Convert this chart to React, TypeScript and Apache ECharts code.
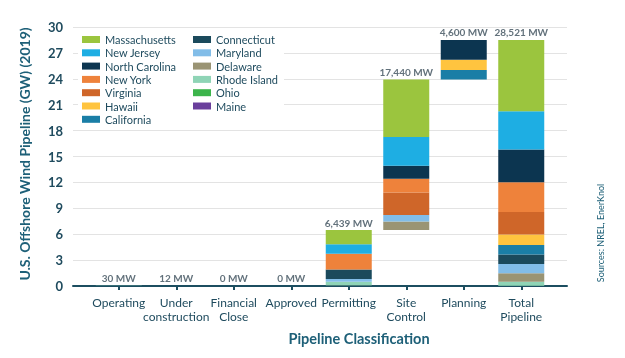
import React, { useEffect, useRef } from "react";
import * as echarts from "echarts";

const categories = ["Operating", "Under\nconstruction", "Financial\nClose", "Approved", "Permitting", "Site\nControl", "Planning", "Total\nPipeline"];
const barLabels = ["30 MW", "12 MW", "0 MW", "0 MW", "6,439 MW", "17,440 MW", "4,600 MW", "28,521 MW"];
const yTicks = [0, 3, 6, 9, 12, 15, 18, 21, 24, 27, 30];

// GW per stage: Operating, Under construction, Financial Close, Approved, Permitting, Site Control, Planning
const massachusetts = [0, 0, 0, 0, 1.63, 6.64, 0];
const newJersey = [0, 0, 0, 0, 1.1, 3.33, 0];
const northCarolina = [0, 0, 0, 0, 0, 1.5, 2.3];
const newYork = [0, 0, 0, 0, 1.82, 1.6, 0];
const virginia = [0, 0.012, 0, 0, 0, 2.62, 0];
const hawaii = [0, 0, 0, 0, 0, 0, 1.2];
const california = [0, 0, 0, 0, 0, 0, 1.1];
const connecticut = [0, 0, 0, 0, 1.1, 0, 0];
const maryland = [0, 0, 0, 0, 0.33, 0.74, 0];
const delaware = [0, 0, 0, 0, 0, 1.0, 0];
const rhodeIsland = [0.03, 0, 0, 0, 0.42, 0, 0];
const ohio = [0, 0, 0, 0, 0.021, 0, 0];
const maine = [0, 0, 0, 0, 0.012, 0, 0];

const states: [string, number[], string][] = [
  ["Maine", maine, "#6a3f9c"],
  ["Ohio", ohio, "#3cb44b"],
  ["Rhode Island", rhodeIsland, "#8fd4b6"],
  ["Delaware", delaware, "#9a9474"],
  ["Maryland", maryland, "#82bde8"],
  ["Connecticut", connecticut, "#1b4a5c"],
  ["California", california, "#1a7ea6"],
  ["Hawaii", hawaii, "#ffc43f"],
  ["Virginia", virginia, "#cf6629"],
  ["New York", newYork, "#ee823b"],
  ["North Carolina", northCarolina, "#0c3550"],
  ["New Jersey", newJersey, "#1eaee3"],
  ["Massachusetts", massachusetts, "#9bc53e"],
];

const legendCol1 = ["Massachusetts", "New Jersey", "North Carolina", "New York", "Virginia", "Hawaii", "California"];
const legendCol2 = ["Connecticut", "Maryland", "Delaware", "Rhode Island", "Ohio", "Maine"];

const FONT = "Lato";
const TEXT = "#1f4b5e";

export default function App() {
  const ref = useRef<HTMLDivElement>(null);
  useEffect(() => {
    if (!ref.current) return;
    const chart = echarts.init(ref.current, null, { renderer: "svg" });
    const nStages = 7;
    const stageTotals: number[] = [];
    for (let i = 0; i < nStages; i++) {
      stageTotals.push(states.reduce((s, st) => s + st[1][i], 0));
    }
    const base: number[] = [];
    let cum = 0;
    for (let i = 0; i < nStages; i++) {
      base.push(cum);
      cum += stageTotals[i];
    }
    base.push(0);
    const grand = cum;
    const tops = [...stageTotals.map((t, i) => base[i] + t), grand];

    const stateSeries = states.map(([name, vals, color]) => ({
      name,
      type: "bar",
      stack: "w",
      xAxisIndex: 1,
      yAxisIndex: 1,
      barWidth: 46,
      itemStyle: { color },
      data: [...vals, vals.reduce((a, b) => a + b, 0)],
    }));

    const legendCommon = {
      orient: "vertical",
      top: 33,
      padding: 0,
      itemWidth: 18,
      itemHeight: 7,
      itemGap: 0.3,
      icon: "rect",
      selectedMode: false,
      textStyle: { fontFamily: FONT, fontSize: 11, color: TEXT, lineHeight: 13 },
    };

    chart.setOption({
      animation: false,
      textStyle: { fontFamily: FONT },
      grid: [
        { left: 73, right: 58, top: 27, bottom: 72 },
        { left: 90, right: 75, top: 27, bottom: 72 },
      ],
      xAxis: [
        {
          type: "value",
          gridIndex: 0,
          min: 0,
          max: 1,
          axisLine: { show: true, lineStyle: { color: "#1c4e60", width: 2 } },
          axisTick: { show: false },
          axisLabel: { show: false },
          splitLine: { show: false },
        },
        {
          type: "category",
          gridIndex: 1,
          data: categories,
          axisLine: { show: false },
          axisTick: { show: true, alignWithLabel: true, length: 4, lineStyle: { color: "#1c4e60", width: 2 } },
          axisLabel: { fontFamily: FONT, fontSize: 12, color: TEXT, margin: 9, lineHeight: 14, interval: 0 },
        },
      ],
      yAxis: [
        {
          type: "value",
          gridIndex: 0,
          min: 0,
          max: 30,
          interval: 3,
          axisLine: { show: false },
          axisTick: { show: false },
          axisLabel: {
            fontFamily: FONT,
            fontSize: 13,
            fontWeight: "bold",
            color: TEXT,
            margin: 10,
            formatter: (v: number) => (yTicks.includes(v) ? String(v) : ""),
          },
          splitLine: { lineStyle: { color: "#e3e3e3", width: 1 } },
        },
        { type: "value", gridIndex: 1, min: 0, max: 30, interval: 3, show: false },
      ],
      legend: [
        { ...legendCommon, left: 82, data: legendCol1 },
        { ...legendCommon, left: 193, data: legendCol2 },
      ],
      graphic: [
        { type: "rect", z: 3, shape: { x: 78, y: 31, width: 206, height: 96 }, style: { fill: "#ffffff" } },
        {
          type: "text",
          x: 24,
          y: 154,
          rotation: Math.PI / 2,
          style: {
            text: "U.S. Offshore Wind Pipeline (GW) (2019)",
            fontFamily: FONT,
            fontSize: 14,
            fontWeight: "bold",
            fill: "#1e6078",
            align: "center",
            verticalAlign: "middle",
          },
        },
        {
          type: "text",
          x: 359,
          y: 338,
          style: {
            text: "Pipeline Classification",
            fontFamily: FONT,
            fontSize: 14.5,
            fontWeight: "bold",
            fill: "#1e6078",
            align: "center",
            verticalAlign: "middle",
          },
        },
        {
          type: "text",
          x: 600,
          y: 233,
          rotation: Math.PI / 2,
          style: {
            text: "Sources: NREL, EnerKnol",
            fontFamily: FONT,
            fontSize: 9,
            fill: "#1e6078",
            align: "center",
            verticalAlign: "middle",
          },
        },
      ],
      series: [
        {
          name: "base",
          type: "bar",
          stack: "w",
          xAxisIndex: 1,
          yAxisIndex: 1,
          barWidth: 46,
          itemStyle: { color: "rgba(0,0,0,0)" },
          data: base,
          silent: true,
        },
        ...stateSeries,
        {
          name: "labels",
          type: "scatter",
          xAxisIndex: 1,
          yAxisIndex: 1,
          symbolSize: 1,
          itemStyle: { color: "rgba(0,0,0,0)" },
          data: tops,
          label: {
            show: true,
            position: "top",
            distance: 2,
            fontFamily: FONT,
            fontSize: 10,
            fontWeight: "bold",
            color: "#3b4d5a",
            formatter: (p: any) => barLabels[p.dataIndex],
          },
        },
      ],
    });
    return () => chart.dispose();
  }, []);
  return <div ref={ref} style={{ position: "fixed", left: 0, top: 0, width: 625, height: 358 }} />;
}
